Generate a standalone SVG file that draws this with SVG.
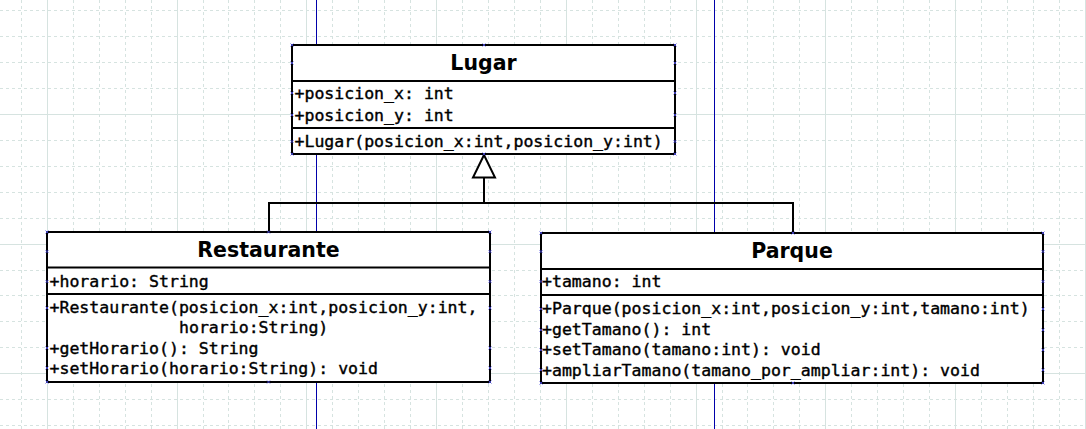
<svg xmlns="http://www.w3.org/2000/svg" xmlns:xlink="http://www.w3.org/1999/xlink" width="1086" height="429" viewBox="0 0 1086 429">
<style>
.gd{stroke:#d6e3e0;stroke-width:1;stroke-dasharray:3,3;fill:none}
.gs{stroke:#d6e3e0;stroke-width:1;fill:none}
.pg{stroke:#0000aa;stroke-width:1;fill:none}
.box{fill:#ffffff;stroke:#000000;stroke-width:2}
.sep{stroke:#000000;stroke-width:2;fill:none}
.ttl{font-family:"DejaVu Sans","Liberation Sans",sans-serif;font-weight:bold;font-size:20.5px;fill:#000;text-anchor:middle}
.mono{font-family:"DejaVu Sans Mono","Liberation Mono",monospace;font-size:16.55px;fill:#000;stroke:#000;stroke-width:0.4}
.conn{stroke:#000;stroke-width:2;fill:none}
.pm{stroke:#4a4ae0;stroke-width:0.8;fill:none}
</style>
<defs>
<path id="pm" class="pm" d="M-1.5,-1.5 L1.5,1.5 M-1.5,1.5 L1.5,-1.5"/>
</defs>
<rect x="0" y="0" width="1086" height="429" fill="#ffffff"/>
<g id="grid">
<path class="gd" d="M21.5,0V429M73.5,0V429M99.5,0V429M125.5,0V429M151.5,0V429M203.5,0V429M228.5,0V429M254.5,0V429M280.5,0V429M332.5,0V429M358.5,0V429M384.5,0V429M410.5,0V429M462.5,0V429M488.5,0V429M514.5,0V429M540.5,0V429M592.5,0V429M618.5,0V429M644.5,0V429M670.5,0V429M722.5,0V429M747.5,0V429M773.5,0V429M799.5,0V429M851.5,0V429M877.5,0V429M903.5,0V429M929.5,0V429M981.5,0V429M1007.5,0V429M1033.5,0V429M1059.5,0V429"/>
<path class="gd" d="M0,10.5H1086M0,36.5H1086M0,62.5H1086M0,88.5H1086M0,140.5H1086M0,166.5H1086M0,192.5H1086M0,218.5H1086M0,270.5H1086M0,295.5H1086M0,321.5H1086M0,347.5H1086M0,399.5H1086M0,425.5H1086"/>
<path class="gs" d="M47.5,0V429M177.5,0V429M306.5,0V429M436.5,0V429M566.5,0V429M696.5,0V429M825.5,0V429M955.5,0V429M1085.5,0V429M0,114.5H1086M0,244.5H1086M0,373.5H1086"/>
<path class="pg" d="M316.5,0V429M714.5,0V429"/>
</g>
<g id="connectors">
<path class="conn" d="M269,232V203H793V233"/>
<path class="conn" d="M484,203V177.5"/>
<polygon points="484,155 473,177.5 495,177.5" fill="#ffffff" stroke="#000" stroke-width="2" stroke-linejoin="miter"/>
</g>
<g id="Lugar">
<rect class="box" x="292" y="45" width="383" height="109"/>
<path class="sep" d="M292,81H675M292,128H675"/>
<text class="ttl" x="483.5" y="70">Lugar</text>
<text class="mono" x="294.5" y="99">+posicion_x: int</text>
<text class="mono" x="294.5" y="120.5">+posicion_y: int</text>
<text class="mono" x="294.5" y="146.5">+Lugar(posicion_x:int,posicion_y:int)</text>
<use href="#pm" x="292" y="45"/><use href="#pm" x="484" y="45"/><use href="#pm" x="675" y="45"/>
<use href="#pm" x="292" y="63"/><use href="#pm" x="675" y="63"/>
<use href="#pm" x="292" y="93"/><use href="#pm" x="675" y="93"/>
<use href="#pm" x="292" y="115"/><use href="#pm" x="675" y="115"/>
<use href="#pm" x="292" y="141.5"/><use href="#pm" x="675" y="141.5"/>
<use href="#pm" x="292" y="154"/><use href="#pm" x="484" y="154"/><use href="#pm" x="675" y="154"/>
</g>
<g id="Restaurante">
<rect class="box" x="47" y="232" width="443" height="150"/>
<path class="sep" d="M47,267.5H490M47,294H490"/>
<text class="ttl" x="268.5" y="257">Restaurante</text>
<text class="mono" x="49.5" y="286.5">+horario: String</text>
<text class="mono" x="49.5" y="312.5">+Restaurante(posicion_x:int,posicion_y:int,</text>
<text class="mono" x="179" y="333">horario:String)</text>
<text class="mono" x="49.5" y="353.5">+getHorario(): String</text>
<text class="mono" x="49.5" y="374">+setHorario(horario:String): void</text>
<use href="#pm" x="47" y="232"/><use href="#pm" x="268.5" y="232"/><use href="#pm" x="490" y="232"/>
<use href="#pm" x="47" y="251.5"/><use href="#pm" x="490" y="251.5"/>
<use href="#pm" x="47" y="281.5"/><use href="#pm" x="490" y="281.5"/>
<use href="#pm" x="47" y="308"/><use href="#pm" x="490" y="308"/>
<use href="#pm" x="47" y="348"/><use href="#pm" x="490" y="348"/>
<use href="#pm" x="47" y="368"/><use href="#pm" x="490" y="368"/>
<use href="#pm" x="47" y="382"/><use href="#pm" x="268.5" y="382"/><use href="#pm" x="490" y="382"/>
</g>
<g id="Parque">
<rect class="box" x="541" y="233" width="502" height="150"/>
<path class="sep" d="M541,269H1043M541,295H1043"/>
<text class="ttl" x="792" y="258">Parque</text>
<text class="mono" x="542" y="287">+tamano: int</text>
<text class="mono" x="542" y="314">+Parque(posicion_x:int,posicion_y:int,tamano:int)</text>
<text class="mono" x="542" y="334.5">+getTamano(): int</text>
<text class="mono" x="542" y="355">+setTamano(tamano:int): void</text>
<text class="mono" x="542" y="375.5">+ampliarTamano(tamano_por_ampliar:int): void</text>
<use href="#pm" x="541" y="233"/><use href="#pm" x="793" y="233"/><use href="#pm" x="1043" y="233"/>
<use href="#pm" x="541" y="251.5"/><use href="#pm" x="1043" y="251.5"/>
<use href="#pm" x="541" y="281.5"/><use href="#pm" x="1043" y="281.5"/>
<use href="#pm" x="541" y="309"/><use href="#pm" x="1043" y="309"/>
<use href="#pm" x="541" y="330"/><use href="#pm" x="1043" y="330"/>
<use href="#pm" x="541" y="350"/><use href="#pm" x="1043" y="350"/>
<use href="#pm" x="541" y="370"/><use href="#pm" x="1043" y="370"/>
<use href="#pm" x="541" y="383"/><use href="#pm" x="793" y="383"/><use href="#pm" x="1043" y="383"/>
</g>
</svg>
